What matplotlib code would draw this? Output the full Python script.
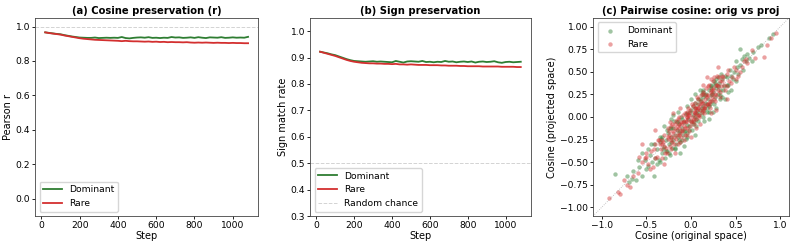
import numpy as np
import matplotlib
matplotlib.use("Agg")
import matplotlib.pyplot as plt

# training steps (one point every 20 steps)
steps = np.arange(20, 1081, 20)

# (a) Pearson r between original and projected cosines
cos_dominant = [0.966, 0.963, 0.960, 0.957, 0.955, 0.950, 0.946, 0.942, 0.939, 0.936,
                0.935, 0.934, 0.934, 0.936, 0.933, 0.934, 0.935, 0.934, 0.935, 0.934,
                0.939, 0.933, 0.931, 0.934, 0.936, 0.937, 0.935, 0.938, 0.934, 0.935,
                0.933, 0.935, 0.934, 0.939, 0.936, 0.937, 0.934, 0.935, 0.937, 0.934,
                0.938, 0.935, 0.933, 0.937, 0.936, 0.935, 0.938, 0.934, 0.935, 0.937,
                0.935, 0.936, 0.935, 0.940]
cos_rare = [0.966, 0.962, 0.959, 0.956, 0.953, 0.948, 0.944, 0.940, 0.936, 0.932,
            0.929, 0.927, 0.925, 0.923, 0.922, 0.921, 0.920, 0.919, 0.918, 0.917,
            0.915, 0.917, 0.915, 0.914, 0.914, 0.913, 0.912, 0.913, 0.911, 0.912,
            0.910, 0.911, 0.909, 0.910, 0.909, 0.909, 0.908, 0.909, 0.907, 0.906,
            0.907, 0.906, 0.907, 0.906, 0.905, 0.906, 0.905, 0.905, 0.904, 0.905,
            0.904, 0.904, 0.903, 0.903]

# (b) sign match rate
sign_dominant = [0.922, 0.919, 0.916, 0.912, 0.909, 0.904, 0.899, 0.894, 0.890, 0.887,
                 0.886, 0.885, 0.884, 0.885, 0.886, 0.884, 0.885, 0.884, 0.883, 0.882,
                 0.887, 0.884, 0.881, 0.885, 0.886, 0.885, 0.884, 0.887, 0.883, 0.884,
                 0.882, 0.884, 0.883, 0.887, 0.884, 0.885, 0.882, 0.884, 0.885, 0.883,
                 0.885, 0.881, 0.884, 0.885, 0.883, 0.884, 0.886, 0.882, 0.880, 0.883,
                 0.884, 0.882, 0.883, 0.884]
sign_rare = [0.922, 0.918, 0.914, 0.910, 0.906, 0.901, 0.896, 0.891, 0.887, 0.884,
             0.882, 0.880, 0.879, 0.878, 0.878, 0.877, 0.877, 0.876, 0.876, 0.875,
             0.876, 0.874, 0.874, 0.873, 0.874, 0.873, 0.872, 0.872, 0.872, 0.871,
             0.871, 0.871, 0.870, 0.870, 0.869, 0.869, 0.869, 0.868, 0.868, 0.867,
             0.867, 0.867, 0.867, 0.866, 0.866, 0.866, 0.866, 0.866, 0.865, 0.865,
             0.865, 0.865, 0.864, 0.864]

# (c) pairwise cosines, original vs projected
dom_orig = [-0.85, -0.72, -0.70, -0.66, -0.62, -0.58, -0.52, -0.50, -0.46, -0.44,
            -0.41, -0.40, -0.38, -0.36, -0.35, -0.33, -0.32, -0.30, -0.29, -0.28,
            -0.27, -0.26, -0.25, -0.24, -0.23, -0.22, -0.21, -0.20, -0.19, -0.18,
            -0.17, -0.16, -0.15, -0.14, -0.13, -0.12, -0.11, -0.10, -0.09, -0.08,
            -0.07, -0.06, -0.05, -0.04, -0.03, -0.02, -0.01, 0.00, 0.01, 0.02,
            0.03, 0.04, 0.05, 0.06, 0.07, 0.08, 0.09, 0.10, 0.11, 0.12,
            0.13, 0.14, 0.15, 0.16, 0.17, 0.18, 0.19, 0.20, 0.21, 0.22,
            0.23, 0.24, 0.25, 0.26, 0.27, 0.28, 0.30, 0.31, 0.33, 0.35,
            0.37, 0.40, 0.42, 0.45, 0.48, 0.50, 0.52, 0.55, 0.58, 0.60,
            0.62, 0.65, 0.70, 0.78, 0.88, 0.92, 0.55, 0.35, 0.38, 0.45,
            -0.08, -0.35, 0.28, 0.10, 0.00, -0.20, -0.45, -0.55, 0.15, 0.05,
            0.25, -0.12, -0.30, -0.18, 0.22, 0.32, -0.05, 0.12, 0.18, -0.24,
            0.08, -0.15, 0.27, 0.02, -0.10, 0.20, 0.30, -0.28, 0.14, 0.06,
            -0.60, -0.48, -0.42, -0.38, -0.34, -0.31, -0.27, -0.25, -0.22, -0.20,
            -0.18, -0.16, -0.14, -0.12, -0.10, -0.08, -0.06, -0.04, -0.02, 0.00,
            0.02, 0.04, 0.06, 0.08, 0.10, 0.12, 0.14, 0.16, 0.18, 0.20,
            0.22, 0.24, 0.26, 0.28, 0.30, 0.32, 0.34, 0.36, 0.40, 0.44,
            0.47, 0.50, 0.53, 0.57, 0.63, 0.68, 0.75, -0.65, -0.55, -0.48,
            0.05, -0.15, 0.20, 0.38, 0.42, -0.05, 0.13, -0.22, 0.27, -0.35]
dom_proj = [-0.63, -0.66, -0.72, -0.69, -0.70, -0.55, -0.48, -0.58, -0.42, -0.50,
            -0.66, -0.45, -0.35, -0.48, -0.28, -0.40, -0.22, -0.33, -0.45, -0.26,
            -0.38, -0.18, -0.30, -0.42, -0.22, -0.12, -0.34, -0.25, -0.05, -0.20,
            -0.30, -0.14, -0.22, -0.08, -0.26, -0.16, 0.00, -0.12, -0.20, -0.06,
            -0.15, 0.03, -0.09, -0.18, -0.02, -0.10, 0.05, -0.04, -0.14, 0.02,
            -0.06, 0.10, 0.00, -0.10, 0.06, 0.14, 0.02, 0.08, 0.18, 0.04,
            0.12, 0.22, 0.08, 0.16, 0.26, 0.10, 0.20, 0.30, 0.14, 0.24,
            0.34, 0.18, 0.28, 0.40, 0.22, 0.32, 0.26, 0.38, 0.30, 0.42,
            0.34, 0.44, 0.36, 0.46, 0.50, 0.40, 0.56, 0.58, 0.52, 0.68,
            0.62, 0.66, 0.72, 0.80, 0.88, 0.92, 0.75, 0.22, 0.20, 0.30,
            -0.32, -0.22, 0.10, 0.30, 0.20, 0.02, -0.30, -0.40, -0.05, 0.25,
            0.05, -0.40, -0.10, -0.36, 0.36, 0.20, -0.22, 0.26, 0.05, -0.12,
            0.20, -0.04, 0.36, 0.12, -0.25, 0.12, 0.44, -0.38, 0.28, -0.02,
            -0.48, -0.36, -0.30, -0.52, -0.24, -0.36, -0.14, -0.40, -0.28, -0.12,
            -0.34, -0.06, -0.18, -0.28, -0.02, -0.16, -0.24, 0.04, -0.14, 0.08,
            -0.08, 0.16, 0.04, -0.04, 0.20, 0.10, 0.00, 0.24, 0.14, 0.06,
            0.32, 0.26, 0.14, 0.42, 0.34, 0.24, 0.48, 0.30, 0.36, 0.52,
            0.42, 0.62, 0.48, 0.64, 0.70, 0.62, 0.78, -0.60, -0.66, -0.54,
            -0.20, 0.05, -0.02, 0.46, 0.28, 0.12, 0.30, -0.02, 0.38, -0.50]

rare_orig = [-0.92, -0.82, -0.80, -0.72, -0.68, -0.60, -0.55, -0.52, -0.48, -0.45,
             -0.43, -0.40, -0.38, -0.36, -0.34, -0.32, -0.31, -0.30, -0.28, -0.27,
             -0.26, -0.25, -0.24, -0.23, -0.22, -0.21, -0.20, -0.19, -0.18, -0.17,
             -0.16, -0.15, -0.14, -0.13, -0.12, -0.11, -0.10, -0.09, -0.08, -0.07,
             -0.06, -0.05, -0.04, -0.03, -0.02, -0.01, 0.00, 0.01, 0.02, 0.03,
             0.04, 0.05, 0.06, 0.07, 0.08, 0.09, 0.10, 0.11, 0.12, 0.13,
             0.14, 0.15, 0.16, 0.17, 0.18, 0.19, 0.20, 0.21, 0.22, 0.23,
             0.24, 0.25, 0.26, 0.27, 0.28, 0.29, 0.30, 0.32, 0.34, 0.36,
             0.38, 0.40, 0.43, 0.46, 0.50, 0.53, 0.57, 0.60, 0.63, 0.82,
             0.90, 0.95, -0.30, -0.15, -0.05, 0.05, 0.15, 0.25, -0.25, -0.10,
             0.00, 0.10, 0.20, 0.30, -0.20, -0.12, -0.02, 0.08, 0.18, -0.35,
             0.12, 0.22, -0.18, -0.08, 0.02, 0.16, 0.26, -0.22, -0.14, 0.06,
             0.35, 0.40, 0.50, -0.50, -0.40, -0.07, 0.03, -0.03, 0.13, 0.09,
             -0.16, -0.26, 0.19, 0.24, -0.11, -0.04, 0.07, 0.28, 0.33, -0.33,
             -0.75, -0.65, -0.58, -0.50, -0.46, -0.42, -0.37, -0.33, -0.29, -0.26,
             -0.23, -0.21, -0.19, -0.17, -0.15, -0.13, -0.11, -0.09, -0.07, -0.05,
             -0.03, -0.01, 0.01, 0.03, 0.05, 0.07, 0.09, 0.11, 0.13, 0.15,
             0.17, 0.19, 0.21, 0.23, 0.25, 0.27, 0.29, 0.31, 0.33, 0.35,
             0.37, 0.42, 0.45, 0.48, 0.55, 0.62, 0.68, 0.72, 0.85, -0.55,
             -0.40, -0.20, 0.00, 0.10, 0.28, 0.40, -0.30, -0.18, 0.18, 0.30,
             -0.08, 0.06, -0.12, 0.14, 0.22, -0.24, -0.02, 0.04, -0.06, 0.08]
rare_proj = [-0.90, -0.83, -0.86, -0.75, -0.78, -0.62, -0.50, -0.45, -0.52, -0.38,
             -0.55, -0.30, -0.44, -0.25, -0.36, -0.46, -0.28, -0.20, -0.34, -0.40,
             -0.24, -0.15, -0.32, -0.22, -0.10, -0.28, -0.18, -0.30, -0.08, -0.24,
             -0.14, -0.02, -0.20, -0.12, -0.28, -0.06, -0.16, 0.02, -0.10, -0.20,
             -0.04, 0.06, -0.12, -0.02, -0.16, 0.08, -0.06, 0.00, 0.12, -0.08,
             0.04, 0.16, -0.02, 0.08, 0.20, 0.02, 0.12, 0.24, 0.06, 0.16,
             0.28, 0.10, 0.20, 0.32, 0.14, 0.24, 0.36, 0.18, 0.28, 0.42,
             0.22, 0.32, 0.44, 0.26, 0.36, 0.46, 0.30, 0.40, 0.34, 0.44,
             0.30, 0.48, 0.40, 0.44, 0.52, 0.46, 0.56, 0.62, 0.60, 0.67,
             0.88, 0.93, -0.32, -0.10, 0.00, 0.02, 0.10, 0.30, -0.20, -0.14,
             -0.05, 0.08, 0.14, 0.34, -0.16, -0.18, 0.04, 0.02, 0.22, -0.30,
             0.16, 0.18, -0.12, -0.04, -0.04, 0.12, 0.20, -0.26, -0.08, 0.10,
             0.40, 0.34, 0.42, -0.44, -0.46, -0.12, 0.06, 0.02, 0.08, 0.14,
             -0.20, -0.22, 0.14, 0.26, -0.08, 0.00, 0.10, 0.24, 0.28, -0.26,
             -0.70, -0.66, -0.44, -0.40, -0.58, -0.36, -0.26, -0.30, -0.40, -0.12,
             -0.36, -0.08, -0.22, -0.04, -0.30, 0.00, -0.22, -0.06, 0.04, -0.20,
             0.10, -0.10, 0.14, -0.02, 0.10, 0.22, 0.00, 0.18, 0.26, 0.04,
             0.24, 0.34, 0.10, 0.30, 0.40, 0.18, 0.36, 0.44, 0.22, 0.46,
             0.36, 0.52, 0.38, 0.56, 0.50, 0.64, 0.74, 0.66, 0.80, -0.30,
             -0.14, 0.04, -0.22, -0.08, 0.08, 0.20, -0.52, -0.40, 0.44, 0.56,
             -0.26, -0.12, 0.10, 0.36, 0.04, -0.06, 0.02, 0.06, -0.06, 0.10]

GREEN = '#2e7d32'
RED = '#d32f2f'

fig = plt.figure(figsize=(7.97, 2.45), dpi=100)

TITLE = 7.2
LAB = 7.0
TICK = 6.6

# (a)
ax1 = fig.add_axes([0.044, 0.118, 0.280, 0.809])
ax1.plot(steps, cos_dominant, color=GREEN, lw=1.3, label='Dominant')
ax1.plot(steps, cos_rare, color=RED, lw=1.3, label='Rare')
ax1.axhline(1.0, color='lightgray', ls='--', lw=0.7)
ax1.set_ylim(-0.1, 1.05)
ax1.set_xlabel('Step', fontsize=LAB, labelpad=1)
ax1.set_ylabel('Pearson r', fontsize=LAB, labelpad=2)
ax1.set_title('(a) Cosine preservation (r)', fontsize=TITLE, fontweight='bold', pad=3)
ax1.legend(loc='lower left', fontsize=TICK)

# (b)
ax2 = fig.add_axes([0.389, 0.118, 0.277, 0.809])
ax2.plot(steps, sign_dominant, color=GREEN, lw=1.3, label='Dominant')
ax2.plot(steps, sign_rare, color=RED, lw=1.3, label='Rare')
ax2.axhline(0.5, color='lightgray', ls='--', lw=0.7, label='Random chance')
ax2.set_ylim(0.3, 1.05)
ax2.set_xlabel('Step', fontsize=LAB, labelpad=1)
ax2.set_ylabel('Sign match rate', fontsize=LAB, labelpad=2)
ax2.set_title('(b) Sign preservation', fontsize=TITLE, fontweight='bold', pad=3)
ax2.legend(loc='lower left', fontsize=TICK)

# (c)
ax3 = fig.add_axes([0.744, 0.118, 0.246, 0.809])
ax3.scatter(dom_orig, dom_proj, s=10, color=GREEN, alpha=0.45, lw=0, label='Dominant')
ax3.scatter(rare_orig, rare_proj, s=10, color=RED, alpha=0.45, lw=0, label='Rare')
ax3.plot([-1.1, 1.1], [-1.1, 1.1], color='gray', ls=':', lw=0.6, alpha=0.6)
ax3.set_xlim(-1.1, 1.1)
ax3.set_ylim(-1.1, 1.1)
ax3.set_xlabel('Cosine (original space)', fontsize=LAB, labelpad=1)
ax3.set_ylabel('Cosine (projected space)', fontsize=LAB, labelpad=2)
ax3.set_title('(c) Pairwise cosine: orig vs proj', fontsize=TITLE, fontweight='bold', pad=3)
ax3.legend(loc='upper left', fontsize=TICK)

for ax in (ax1, ax2, ax3):
    ax.tick_params(labelsize=TICK, length=2, width=0.6, pad=1.5)
    for s in ax.spines.values():
        s.set_linewidth(0.6)
        s.set_color('#444444')

fig.savefig('out.png', dpi=100)
